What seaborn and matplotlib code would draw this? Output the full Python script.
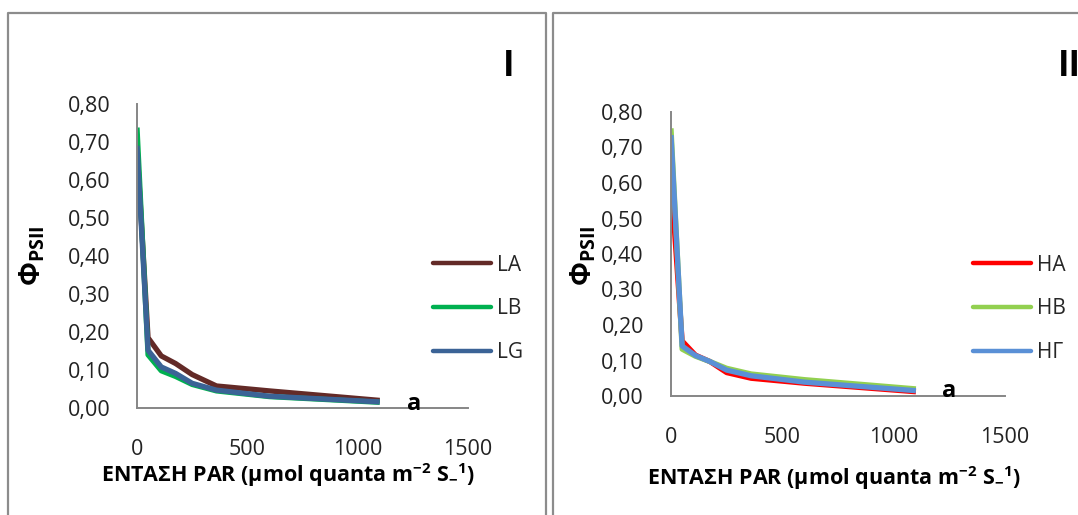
import matplotlib
matplotlib.use("Agg")
import matplotlib.pyplot as plt
import seaborn as sns
import pandas as pd
from matplotlib.lines import Line2D

# PAR steps of the light curve (µmol quanta m-2 s-1)
par = [0, 50, 110, 175, 250, 360, 600, 1100]

# Panel I: low-light treatments
la = [0.69, 0.185, 0.137, 0.117, 0.088, 0.058, 0.045, 0.020]
lb = [0.738, 0.140, 0.098, 0.083, 0.062, 0.045, 0.030, 0.015]
lg = [0.690, 0.152, 0.108, 0.091, 0.065, 0.047, 0.031, 0.016]

# Panel II: high-light treatments
ha = [0.61, 0.155, 0.115, 0.097, 0.066, 0.050, 0.036, 0.012]
hb = [0.754, 0.132, 0.112, 0.097, 0.078, 0.062, 0.046, 0.020]
hg = [0.735, 0.141, 0.114, 0.097, 0.073, 0.057, 0.039, 0.015]

labels_1 = ["LA", "LB", "LG"]
labels_2 = ["HA", "HB", "HΓ"]
colors_1 = ["#632a27", "#00b050", "#3b6396"]
colors_2 = ["#ff0000", "#92d050", "#5a90d6"]

y_ticks = [0.0, 0.1, 0.2, 0.3, 0.4, 0.5, 0.6, 0.7, 0.8]
x_ticks = [0, 500, 1000, 1500]

sns.set_theme(style="white")
plt.rcParams['font.family'] = ['Open Sans', 'DejaVu Sans']
plt.rcParams['mathtext.fontset'] = 'custom'
plt.rcParams['mathtext.rm'] = 'Open Sans'
plt.rcParams['mathtext.bf'] = 'Open Sans:bold'
plt.rcParams['mathtext.it'] = 'Open Sans:italic'

W, H = 1078, 515
fig = plt.figure(figsize=(W / 100, H / 100), dpi=100)


def fx(x):
    return x / W


def fy(y):
    return 1 - y / H


def axes_at(left, right, top, bottom):
    return fig.add_axes([fx(left), fy(bottom), (right - left) / W, (bottom - top) / H])


# outer panel frames
frame_kw = dict(color="#8c8c8c", lw=1.6, transform=fig.transFigure)
for xs, ys in [([8, 8, 546, 546], [H + 5, 13, 13, H + 5]),
               ([553, 553, W + 5], [H + 5, 13, 13])]:
    fig.add_artist(Line2D([fx(v) for v in xs], [fy(v) for v in ys], **frame_kw))

gray = "#868686"
panels = [
    dict(box=(137, 468, 104, 408), series=[la, lb, lg], labels=labels_1, colors=colors_1,
         ypad=19, xpad=22, legend=(433, 309), ylab=(33, 256), xlab=(288, 475),
         mark=(414, 404), roman="I", roman_xy=(509, 67), roman_ha="center"),
    dict(box=(671, 1005, 112, 396), series=[ha, hb, hg], labels=labels_2, colors=colors_2,
         ypad=19.5, xpad=22, legend=(973, 309), ylab=(584, 256), xlab=(834, 478),
         mark=(949, 391), roman="II", roman_xy=(1058, 67), roman_ha="left"),
]

for p in panels:
    ax = axes_at(*p["box"])
    frames = []
    for name, vals in zip(p["labels"], p["series"]):
        frames.append(pd.DataFrame({"PAR": par, "Y": vals, "series": name}))
    df = pd.concat(frames, ignore_index=True)
    sns.lineplot(data=df, x="PAR", y="Y", hue="series", hue_order=p["labels"],
                 palette=p["colors"], linewidth=3.8, ax=ax, legend=False,
                 solid_capstyle="butt", solid_joinstyle="round")

    ax.set_xlim(0, 1500)
    ax.set_ylim(0, 0.8)
    ax.set_xticks(x_ticks)
    ax.set_yticks(y_ticks)
    ax.set_yticklabels([f"{v:.2f}".replace(".", ",") for v in y_ticks])
    ax.set_xticklabels([str(v) for v in x_ticks])
    ax.tick_params(axis="y", length=0, pad=p["ypad"], labelsize=15.5, colors="#222222")
    ax.tick_params(axis="x", length=0, pad=p["xpad"], labelsize=15.5, colors="#222222")
    ax.set_xlabel("")
    ax.set_ylabel("")
    ax.set_facecolor("none")
    for side in ["top", "right"]:
        ax.spines[side].set_visible(False)
    for side in ["left", "bottom"]:
        ax.spines[side].set_color(gray)
        ax.spines[side].set_linewidth(1.4)

    handles = [Line2D([0], [0], color=c, lw=3.2, solid_capstyle="round") for c in p["colors"]]
    fig.legend(handles, p["labels"], loc="center left",
               bbox_to_anchor=(fx(p["legend"][0]), fy(p["legend"][1])),
               bbox_transform=fig.transFigure, frameon=False, fontsize=15,
               handlelength=2.8, handletextpad=0.25, labelspacing=1.1,
               borderpad=0, borderaxespad=0)

    fig.text(fx(p["ylab"][0]), fy(p["ylab"][1]), r"$\mathbf{Φ}_{\mathbf{PSII}}$",
             rotation=90, ha="center", va="center", fontsize=20, color="black")
    fig.text(fx(p["xlab"][0]), fy(p["xlab"][1]),
             r"ΕΝΤΑΣΗ PAR (μmol quanta m$^{\mathbf{-2}}$ S$_{\mathbf{-}}$$^{\mathbf{1}}$)",
             ha="center", va="center", fontsize=15.5, fontweight="bold", color="black")
    fig.text(fx(p["mark"][0]), fy(p["mark"][1]), "a", ha="center", va="center",
             fontsize=17, fontweight="bold", color="black")
    fig.text(fx(p["roman_xy"][0]), fy(p["roman_xy"][1]), p["roman"],
             ha=p["roman_ha"], va="center", fontsize=25, fontweight="bold", color="black")

fig.savefig("out.png", dpi=100, facecolor="white")
